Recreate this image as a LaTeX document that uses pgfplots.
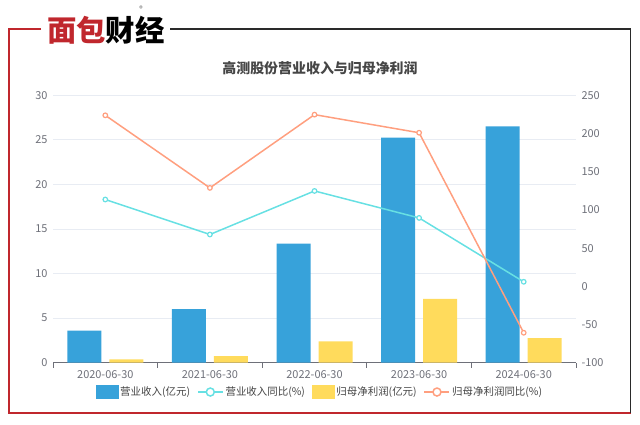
\documentclass[border=0pt]{standalone}
\usepackage{fontspec}
\setmainfont{Noto Sans CJK SC}
\usepackage{pgfplots}
\usepackage{pgfplotstable}
\pgfplotsset{compat=1.18}
\definecolor{barblue}{HTML}{37A2DA}
\definecolor{baryellow}{HTML}{FFDB5C}
\definecolor{linecyan}{HTML}{67E0E3}
\definecolor{lineorange}{HTML}{FF9F7F}
\definecolor{ticktext}{HTML}{6E7079}
\definecolor{gridc}{HTML}{E8ECF3}
\definecolor{axisc}{HTML}{6E7079}
\definecolor{framered}{HTML}{C0272D}
\definecolor{framedark}{HTML}{2A2A2A}
\definecolor{titlec}{HTML}{464646}
\definecolor{legtext}{HTML}{444444}

\pgfplotstableread{
x rev profit revyoy profyoy
0 3.6 0.38 113.6 223.8
1 6.0 0.75 67.8 128.8
2 13.37 2.4 124.8 224.7
3 25.25 7.16 89.5 201
4 26.5 2.75 5.9 -60.8
}\data

\begin{document}
\begin{tikzpicture}[x=1bp,y=1bp]
\path[use as bounding box] (0,0) rectangle (640,424);
% frame
\draw[framered, line width=1.6bp] (41,395) -- (9,395) -- (9,11) -- (630.5,11);
\draw[framedark, line width=1.4bp] (170,395) -- (630.5,395) -- (630.5,11);
% logo
\node[anchor=west, inner sep=0pt] at (47,394) {\fontsize{29.5}{31}\selectfont\bfseries\textcolor{framered}{面包}\textcolor{black}{财经}};
\node[inner sep=0pt, text=black!70] at (141,415) {\fontsize{7}{8}\selectfont ®};
% title
\node[text=titlec] at (320,356) {\fontsize{14}{16}\selectfont\bfseries 高测股份营业收入与归母净利润};

\begin{axis}[
  at={(53bp,61.3bp)}, anchor=south west,
  scale only axis, width=523bp, height=267.4bp,
  xmin=-0.5, xmax=4.5, ymin=0, ymax=30,
  ytick={0,5,...,30},
  axis x line*=bottom, axis y line*=left,
  x axis line style={axisc, line width=0.8bp, -},
  y axis line style={draw=none},
  ymajorgrids, grid style={gridc, line width=0.8bp},
  xtick={0,...,4},
  xticklabels={2020-06-30,2021-06-30,2022-06-30,2023-06-30,2024-06-30},
  major tick length=0pt,
  minor xtick={-0.5,0.5,1.5,2.5,3.5,4.5},
  minor tick length=5bp, tick align=outside,
  minor x tick style={axisc, line width=0.8bp},
  tick label style={text=ticktext, font=\fontsize{11}{13}\selectfont},
  xticklabel style={yshift=-4bp},
  yticklabel style={xshift=-2bp},
  /pgf/number format/assume math mode=true,
  ybar, bar width=34bp,
]
\addplot[fill=barblue, draw=none, bar shift=-21bp] table[x=x,y=rev]{\data};
\addplot[fill=baryellow, draw=none, bar shift=21bp] table[x=x,y=profit]{\data};
\end{axis}

\begin{axis}[
  at={(53bp,61.3bp)}, anchor=south west,
  scale only axis, width=523bp, height=267.4bp,
  xmin=-0.5, xmax=4.5, ymin=-100, ymax=250,
  ytick={-100,-50,...,250},
  axis x line=none, axis y line*=right,
  y axis line style={draw=none},
  major tick length=0pt,
  tick label style={text=ticktext, font=\fontsize{11}{13}\selectfont},
  yticklabel style={xshift=2bp},
  /pgf/number format/assume math mode=true,
  legend columns=4,
  legend style={at={(0.5105,-0.1096)}, anchor=center, draw=none, fill=none,
    font=\fontsize{10.5}{12}\selectfont, text=legtext, inner sep=1bp,
    /tikz/every even column/.append style={column sep=5bp},
    nodes={inner sep=2bp}},
  legend cell align=left,
]
\addlegendimage{legend image code/.code={\fill[barblue] (0bp,-6bp) rectangle (22bp,7bp);}}
\addlegendentry{营业收入(亿元)}
\addplot[linecyan, line width=1.5bp, mark=*, mark size=2.3bp, mark options={fill=white, draw=linecyan, line width=1.2bp},
  legend image code/.code={\draw[linecyan, line width=1.5bp] (0bp,0bp) -- (25bp,0bp); \draw[linecyan, fill=white, line width=1.5bp] (12.5bp,0bp) circle (4bp);}] table[x=x,y=revyoy]{\data};
\addlegendentry{营业收入同比(\%)}
\addlegendimage{legend image code/.code={\fill[baryellow] (0bp,-6bp) rectangle (22bp,7bp);}}
\addlegendentry{归母净利润(亿元)}
\addplot[lineorange, line width=1.5bp, mark=*, mark size=2.3bp, mark options={fill=white, draw=lineorange, line width=1.2bp},
  legend image code/.code={\draw[lineorange, line width=1.5bp] (0bp,0bp) -- (25bp,0bp); \draw[lineorange, fill=white, line width=1.5bp] (12.5bp,0bp) circle (4bp);}] table[x=x,y=profyoy]{\data};
\addlegendentry{归母净利润同比(\%)}
\end{axis}
\end{tikzpicture}
\end{document}
